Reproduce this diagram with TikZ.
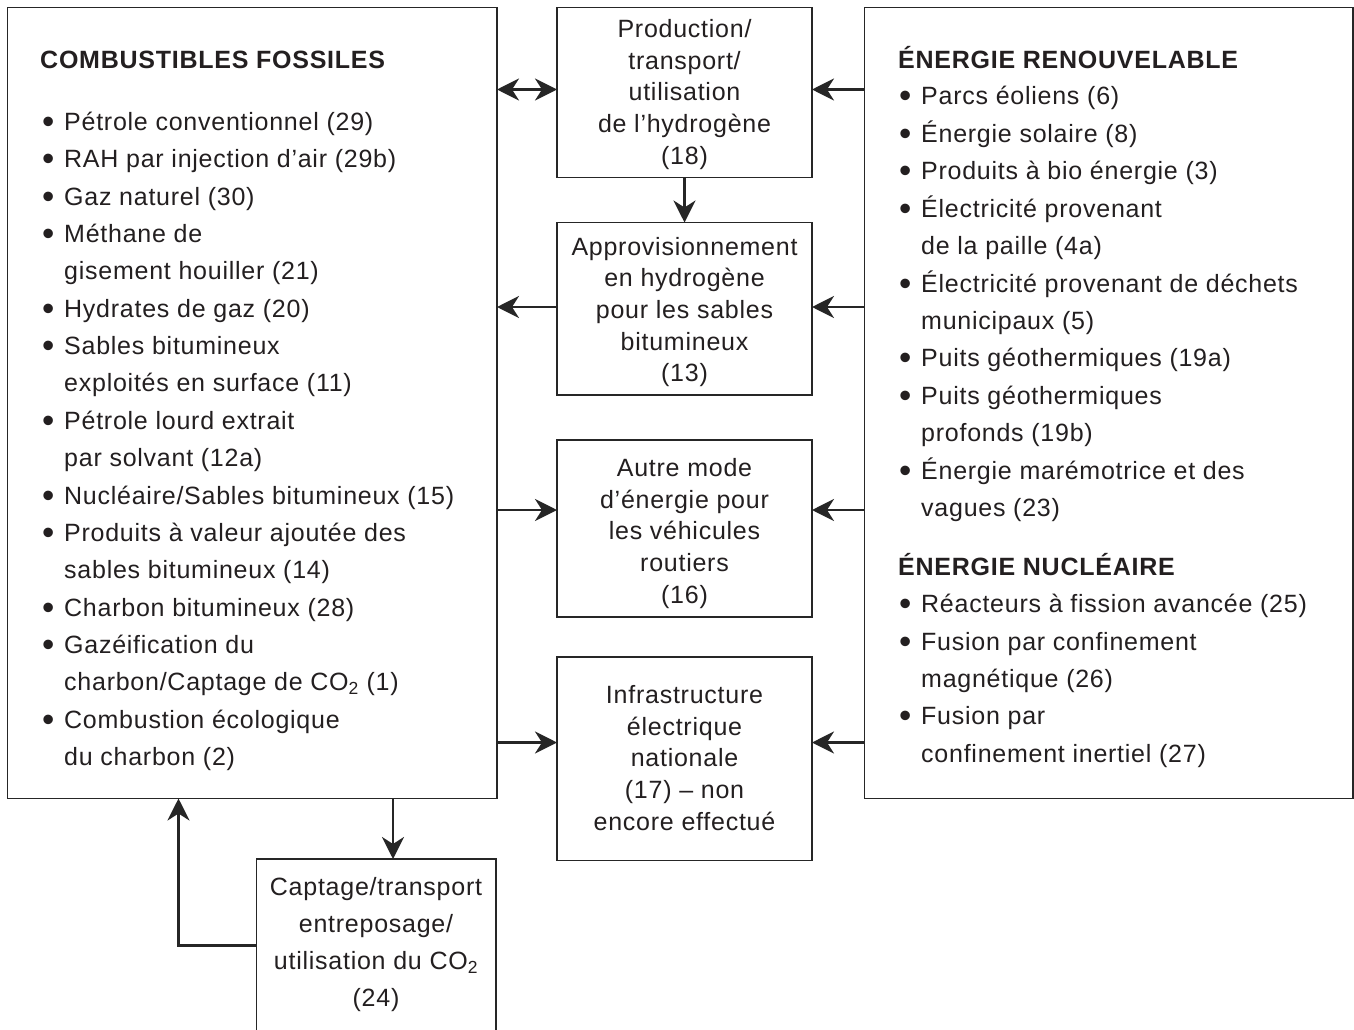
\documentclass[tikz,border=0pt]{standalone}
\usepackage{fontspec}
\setmainfont{Liberation Sans}[LetterSpace=3]
\newfontfamily\headfont{Liberation Sans}[LetterSpace=3]
\usetikzlibrary{arrows.meta}
\definecolor{textc}{HTML}{231F20}
\definecolor{linec}{HTML}{262626}
\tikzset{
  box/.style={draw=linec, line width=1.4pt, inner sep=0pt, outer sep=0pt, rectangle, anchor=north west},
  arr/.style={draw=linec, line width=2.8pt, -{Stealth[length=22pt,width=22pt,inset=7pt]}},
  darr/.style={draw=linec, line width=2.8pt, {Stealth[length=22pt,width=22pt,inset=7pt]}-{Stealth[length=22pt,width=22pt,inset=7pt]}},
  txt/.style={anchor=base west, inner sep=0pt, text=textc, font=\fontsize{25}{30}\selectfont},
  ctxt/.style={anchor=base, inner sep=0pt, text=textc, font=\fontsize{25}{30}\selectfont},
  head/.style={anchor=base west, inner sep=0pt, text=textc, font=\headfont\bfseries\fontsize{25}{30}\selectfont},
}
\newcommand{\bul}{\makebox[22pt][l]{\raisebox{-3pt}{\scalebox{1.4}{\textbullet}}}}
\begin{document}
\begin{tikzpicture}[x=1pt,y=-1pt]
\useasboundingbox (0,0) rectangle (1354,1030);
\fill[white] (0,0) rectangle (1354,1030);
\clip (0,0) rectangle (1354,1030);

% boxes
\node[box, minimum width=489.5pt, minimum height=791pt] (fos) at (7.5,7.5) {};
\node[box, minimum width=488.5pt, minimum height=791pt] (ren) at (864.5,7.5) {};
\node[box, minimum width=255pt, minimum height=170pt] (h2) at (557,7.5) {};
\node[box, minimum width=255pt, minimum height=172.5pt] (sab) at (557,222.5) {};
\node[box, minimum width=255pt, minimum height=177pt] (veh) at (557,440) {};
\node[box, minimum width=255pt, minimum height=203.5pt] (elec) at (557,657) {};
\node[box, minimum width=239.5pt, minimum height=190pt] (ccs) at (256.5,859) {};

% left list
\node[head] (fh) at (40,68.3) {COMBUSTIBLES FOSSILES};
\node[txt] (f0) at (42,130.5) {\bul Pétrole conventionnel (29)};
\node[txt] (f1) at (42,167.85) {\bul RAH par injection d’air (29b)};
\node[txt] (f2) at (42,205.2) {\bul Gaz naturel (30)};
\node[txt] (f3) at (42,242.55) {\bul Méthane de};
\node[txt] (f4) at (64,279.9) {gisement houiller (21)};
\node[txt] (f5) at (42,317.25) {\bul Hydrates de gaz (20)};
\node[txt] (f6) at (42,354.6) {\bul Sables bitumineux};
\node[txt] (f7) at (64,391.95) {exploités en surface (11)};
\node[txt] (f8) at (42,429.3) {\bul Pétrole lourd extrait};
\node[txt] (f9) at (64,466.65) {par solvant (12a)};
\node[txt] (f10) at (42,504) {\bul Nucléaire/Sables bitumineux (15)};
\node[txt] (f11) at (42,541.35) {\bul Produits à valeur ajoutée des};
\node[txt] (f12) at (64,578.7) {sables bitumineux (14)};
\node[txt] (f13) at (42,616.05) {\bul Charbon bitumineux (28)};
\node[txt] (f14) at (42,653.4) {\bul Gazéification du};
\node[txt] (f15) at (64,690.75) {charbon/Captage de CO\textsubscript{2} (1)};
\node[txt] (f16) at (42,728.1) {\bul Combustion écologique};
\node[txt] (f17) at (64,765.45) {du charbon (2)};

% right list
\node[head] (rh) at (898,68.3) {ÉNERGIE RENOUVELABLE};
\node[txt] (r0) at (899,105) {\bul Parcs éoliens (6)};
\node[txt] (r1) at (899,142.4) {\bul Énergie solaire (8)};
\node[txt] (r2) at (899,179.8) {\bul Produits à bio énergie (3)};
\node[txt] (r3) at (899,217.2) {\bul Électricité provenant};
\node[txt] (r4) at (921,254.6) {de la paille (4a)};
\node[txt] (r5) at (899,292) {\bul Électricité provenant de déchets};
\node[txt] (r6) at (921,329.4) {municipaux (5)};
\node[txt] (r7) at (899,366.8) {\bul Puits géothermiques (19a)};
\node[txt] (r8) at (899,404.2) {\bul Puits géothermiques};
\node[txt] (r9) at (921,441.6) {profonds (19b)};
\node[txt] (r10) at (899,479) {\bul Énergie marémotrice et des};
\node[txt] (r11) at (921,516.4) {vagues (23)};
\node[head] (nh) at (898,575) {ÉNERGIE NUCLÉAIRE};
\node[txt] (n0) at (899,612.7) {\bul Réacteurs à fission avancée (25)};
\node[txt] (n1) at (899,650.1) {\bul Fusion par confinement};
\node[txt] (n2) at (921,687.5) {magnétique (26)};
\node[txt] (n3) at (899,724.9) {\bul Fusion par};
\node[txt] (n4) at (921,762.3) {confinement inertiel (27)};

% middle texts
\node[ctxt] (a0) at (684.5,37.3) {Production/};
\node[ctxt] (a1) at (684.5,69.1) {transport/};
\node[ctxt] (a2) at (684.5,100.9) {utilisation};
\node[ctxt] (a3) at (684.5,132.7) {de l’hydrogène};
\node[ctxt] (a4) at (684.5,164.5) {(18)};

\node[ctxt] (b0) at (684.5,255) {Approvisionnement};
\node[ctxt] (b1) at (684.5,286.7) {en hydrogène};
\node[ctxt] (b2) at (684.5,318.4) {pour les sables};
\node[ctxt] (b3) at (684.5,350.1) {bitumineux};
\node[ctxt] (b4) at (684.5,381.8) {(13)};

\node[ctxt] (c0) at (684.5,476.5) {Autre mode};
\node[ctxt] (c1) at (684.5,508.2) {d’énergie pour};
\node[ctxt] (c2) at (684.5,539.9) {les véhicules};
\node[ctxt] (c3) at (684.5,571.6) {routiers};
\node[ctxt] (c4) at (684.5,603.3) {(16)};

\node[ctxt] (d0) at (684.5,703.3) {Infrastructure};
\node[ctxt] (d1) at (684.5,735) {électrique};
\node[ctxt] (d2) at (684.5,766.7) {nationale};
\node[ctxt] (d3) at (684.5,798.4) {(17) – non};
\node[ctxt] (d4) at (684.5,830.1) {encore effectué};

\node[ctxt] (e0) at (376,895) {Captage/transport};
\node[ctxt] (e1) at (376,932.2) {entreposage/};
\node[ctxt] (e2) at (376,969.4) {utilisation du CO\textsubscript{2}};
\node[ctxt] (e3) at (376,1006.6) {(24)};

% connector levels
\coordinate (y1) at (0,89.5);
\coordinate (y2) at (0,307);
\coordinate (y3) at (0,510);
\coordinate (y4) at (0,742.5);
\coordinate (xd) at (393,0);
\coordinate (fb) at (178.5,945.5);

% connectors
\draw[darr] (fos.east |- y1) -- (h2.west |- y1);
\draw[arr] (ren.west |- y1) -- (h2.east |- y1);
\draw[arr] (h2.south) -- (sab.north);
\draw[arr] (sab.west |- y2) -- (fos.east |- y2);
\draw[arr] (ren.west |- y2) -- (sab.east |- y2);
\draw[arr] (fos.east |- y3) -- (veh.west |- y3);
\draw[arr] (ren.west |- y3) -- (veh.east |- y3);
\draw[arr] (fos.east |- y4) -- (elec.west |- y4);
\draw[arr] (ren.west |- y4) -- (elec.east |- y4);
\draw[arr] (fos.south -| xd) -- (ccs.north -| xd);
\draw[arr] (ccs.west |- fb) -- (fb) -- (fb |- fos.south);
\end{tikzpicture}
\end{document}
